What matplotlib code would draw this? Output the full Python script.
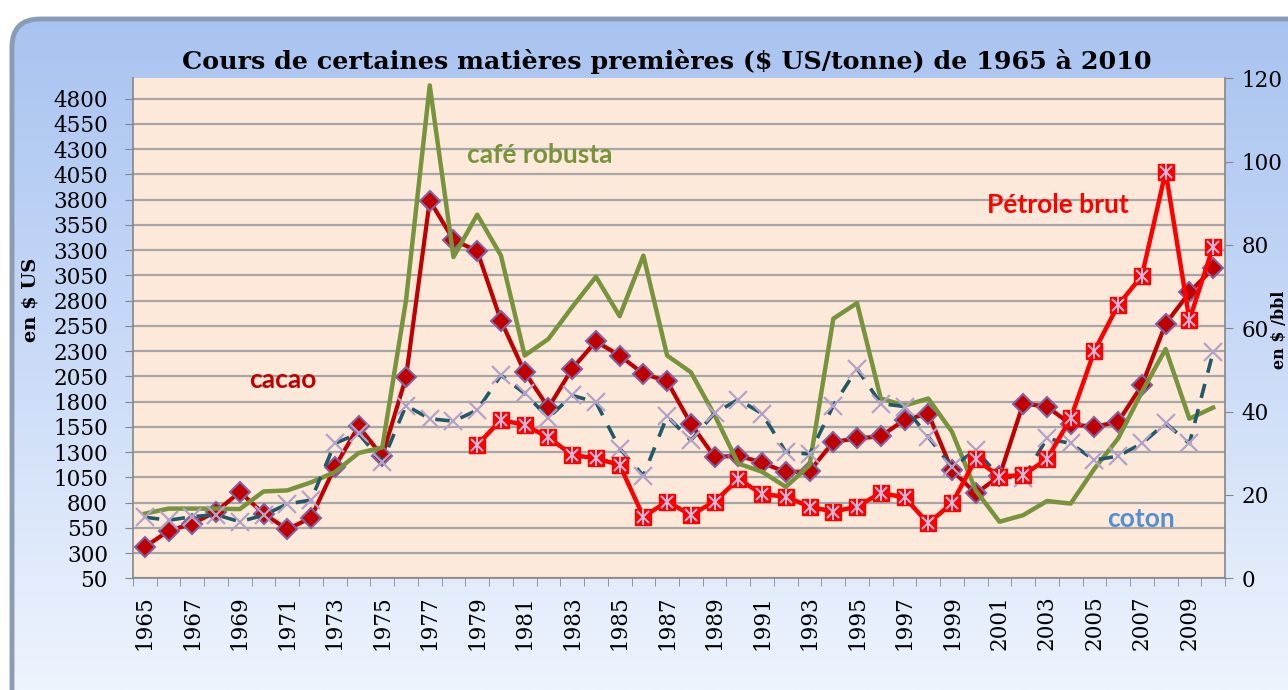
import matplotlib.pyplot as plt
import numpy as np
from matplotlib.patches import FancyBboxPatch
from matplotlib.colors import LinearSegmentedColormap

# Data
years = list(range(1965, 2011))
cacao = [360, 520, 590, 710, 905, 690, 535, 650, 1150, 1555,
         1260, 2040, 3790, 3400, 3290, 2600, 2090, 1740, 2125, 2395,
         2255, 2075, 2000, 1580, 1250, 1265, 1195, 1100, 1110, 1400,
         1435, 1455, 1620, 1680, 1120, 890, 1060, 1780, 1750, 1575,
         1550, 1600, 1960, 2570, 2880, 3120]
cafe = [690, 740, 740, 740, 735, 910, 920, 1000, 1100, 1290,
        1345, 2800, 4930, 3230, 3650, 3245, 2255, 2420, 2735, 3035,
        2645, 3245, 2255, 2090, 1665, 1185, 1105, 955, 1170, 2620,
        2775, 1830, 1760, 1830, 1500, 920, 610, 675, 815, 790,
        1135, 1435, 1895, 2320, 1630, 1740]
coton = [655, 625, 660, 680, 610, 675, 785, 825, 1385, 1485,
         1200, 1760, 1630, 1605, 1715, 2060, 1880, 1640, 1860, 1795,
         1335, 1065, 1655, 1415, 1685, 1820, 1680, 1300, 1280, 1760,
         2125, 1780, 1750, 1450, 1150, 1320, 1055, 1040, 1435, 1385,
         1220, 1260, 1385, 1585, 1385, 2290]
petrole_years = list(range(1979, 2011))
petrole = [32.0, 38.0, 36.8, 33.8, 29.6, 28.8, 27.2, 14.8, 18.4, 15.2,
           18.4, 23.8, 20.2, 19.6, 17.2, 16.0, 17.2, 20.5, 19.4, 13.2,
           18.0, 28.6, 24.4, 24.8, 28.6, 38.4, 54.6, 65.6, 72.6, 97.6,
           62.0, 79.6]

W, H = 1288, 690
fig = plt.figure(figsize=(W / 100, H / 100), dpi=100)

# background: rounded blue frame with vertical gradient
bg = fig.add_axes([0, 0, 1, 1])
bg.set_xlim(0, W)
bg.set_ylim(H, 0)
bg.axis('off')
frame = FancyBboxPatch((12, 19), W + 40, H + 40,
                       boxstyle='round,pad=0,rounding_size=28',
                       facecolor='none', edgecolor='#8a9bb5', lw=3.5, zorder=3)
bg.add_patch(frame)
grad = np.linspace(0, 1, 256).reshape(-1, 1)
cmap = LinearSegmentedColormap.from_list('bgc', ['#a6c2f0', '#c9daf7', '#eef4fd'])
im = bg.imshow(grad, cmap=cmap, extent=[0, W, H, 0], aspect='auto', zorder=1)
im.set_clip_path(frame)

tick_font = dict(family='DejaVu Serif', size=15.5)

# main axes
left, right, top, bottom = 133, 1225, 78.3, 578.3
ax = fig.add_axes([left / W, 1 - bottom / H, (right - left) / W, (bottom - top) / H])
ax.set_facecolor('#fde9d9')
x = np.arange(len(years))
xp = np.arange(len(petrole_years)) + years.index(petrole_years[0])

ax.plot(x, cacao, color='#c00000', lw=3, marker='D', ms=10,
        mfc='#c00000', mec='#8064a2', mew=1.5, zorder=3)
ax.plot(x, cafe, color='#77933c', lw=3.2, zorder=4)
ax.plot(x, coton, color='#215968', lw=2.6, dashes=(4, 3.2), zorder=5)
ax.plot(x, coton, ls='none', marker='x', ms=13, mec='#b3a2c7', mew=1.6, zorder=5)

ax.set_ylim(50, 5000)
ax.set_yticks(np.arange(50, 4801, 250))
ax.set_xlim(-0.5, len(years) - 0.5)
ax.set_xticks(x[::2])
ax.set_xticklabels([str(y) for y in years[::2]], rotation=90)
ax.set_xticks(np.arange(-0.5, len(years), 1), minor=True)
ax.tick_params(axis='x', which='major', length=0, pad=12)
ax.tick_params(axis='x', which='minor', length=6, color='#868686', direction='out')
ax.tick_params(axis='y', length=6, color='#868686', pad=12)
ax.grid(axis='y', color='#a6a6a6', lw=1.6)
ax.set_axisbelow(True)
for s in ['top', 'right']:
    ax.spines[s].set_visible(False)
for s in ['left', 'bottom']:
    ax.spines[s].set_color('#868686')
    ax.spines[s].set_linewidth(1.2)
for lab in ax.get_xticklabels() + ax.get_yticklabels():
    lab.set_fontfamily(tick_font['family'])
    lab.set_fontsize(tick_font['size'])

# secondary axis: oil price
ax2 = ax.twinx()
ax2.plot(xp, petrole, color='#ff0000', lw=3.2, marker='s', ms=12,
         mfc='#ff0000', mec='#ff0000', zorder=6)
ax2.plot(xp, petrole, ls='none', marker='x', ms=9, mec='#c9bde0', mew=1.4, zorder=7)
ax2.plot(xp, petrole, ls='none', marker='|', ms=11, mec='#c9bde0', mew=1.4, zorder=7)
ax2.set_ylim(0, 120)
ax2.set_yticks(np.arange(0, 121, 20))
ax2.tick_params(axis='y', length=6, color='#868686', pad=6)
for s in ['top', 'left', 'bottom']:
    ax2.spines[s].set_visible(False)
ax2.spines['right'].set_color('#868686')
ax2.spines['right'].set_linewidth(1.2)
for lab in ax2.get_yticklabels():
    lab.set_fontfamily(tick_font['family'])
    lab.set_fontsize(tick_font['size'])

# titles and labels
fig.text(667 / W, 1 - 61 / H, 'Cours de certaines matières premières ($ US/tonne) de 1965 à 2010',
         ha='center', va='center', fontsize=18.3, fontweight='bold', family='DejaVu Serif')
fig.text(31 / W, 1 - 300 / H, 'en $ US', rotation=90, ha='center', va='center',
         fontsize=14, fontweight='bold', family='DejaVu Serif')
fig.text(1280 / W, 1 - 330 / H, 'en $ /bbl', rotation=90, ha='center', va='center',
         fontsize=11.5, fontweight='bold', family='DejaVu Serif')

# series labels
lab_kw = dict(fontsize=19, fontweight='bold', family='Lato', ha='center', va='center')
fig.text(540 / W, 1 - 155 / H, 'café robusta', color='#77933c', **lab_kw)
fig.text(1058 / W, 1 - 205 / H, 'Pétrole brut', color='#ff0000', **lab_kw)
fig.text(283 / W, 1 - 380 / H, 'cacao', color='#c00000', **lab_kw)
fig.text(1141 / W, 1 - 519 / H, 'coton', color='#4f8fd6', **lab_kw)

fig.savefig('out.png', dpi=100)
